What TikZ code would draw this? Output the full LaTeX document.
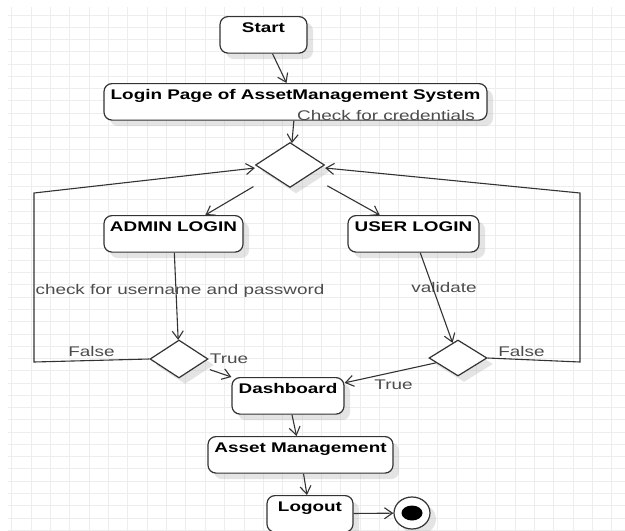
\documentclass[tikz,border=0pt]{standalone}
\usepackage{fontspec}
\newfontfamily\diagfont{Liberation Sans}[FakeStretch=1.35]
\usepackage{tikz}
\usetikzlibrary{arrows.meta, positioning, shapes.geometric, shadows, calc}

\begin{document}
\begin{tikzpicture}[x=1pt, y=-1pt,
  every node/.style={font=\diagfont\fontsize{14}{16}\selectfont},
  shd/.style={drop shadow={shadow xshift=6pt, shadow yshift=-6pt, fill=black!30, opacity=0.35}},
  box/.style={draw=black!80, line width=1.2pt, rounded corners=8pt, fill=white, shd,
    inner xsep=0pt, inner ysep=0.5pt, text height=15.5pt, text depth=20pt,
    font=\diagfont\bfseries\fontsize{14}{16}\selectfont},
  dec/.style={diamond, draw=black!80, line width=1.2pt, fill=white, inner sep=0pt, shd},
  lbl/.style={text=black!70, inner sep=0pt, anchor=base},
  arr/.style={draw=black!80, line width=1.1pt, -{Straight Barb[length=8pt,width=11pt]}},
  gridln/.style={draw=black!7, line width=1pt}]
\useasboundingbox[fill=white] (0,0) rectangle (625,531);
\begin{scope}
\clip (8,7) rectangle (625,531);
\foreach \i in {0,...,31} \draw[gridln] (11.7+19.36*\i,7) -- (11.7+19.36*\i,531);
\foreach \j in {0,...,42} \draw[gridln] (8,15+12.27*\j) -- (625,15+12.27*\j);
\end{scope}
\node[box, minimum width=87pt, anchor=north] (start) at (263.5,16) {Start};
\node[box, minimum width=383pt, anchor=north] (login) at (295.5,83) {Login Page of AssetManagement System};
\node[lbl] (cred) at (386,120) {Check for credentials};
\node[dec, minimum width=69pt, minimum height=45pt] (dtop) at (290,165) {};
\node[box, minimum width=139pt, anchor=north] (admin) at (173.5,215) {ADMIN LOGIN};
\node[box, minimum width=131pt, anchor=north] (user) at (413.5,215) {USER LOGIN};
\node[lbl] (chk) at (180,294) {check for username and password};
\node[lbl] (val) at (444,292) {validate};
\node[dec, minimum width=58pt, minimum height=38pt] (dadm) at (179,359) {};
\node[dec, minimum width=58pt, minimum height=36pt] (dusr) at (458,358) {};
\node[lbl] (f1) at (91.5,356) {False};
\node[lbl] (t1) at (229,363) {True};
\node[lbl] (f2) at (521.5,356) {False};
\node[lbl] (t2) at (393.5,389) {True};
\node[box, minimum width=112pt, anchor=north] (dash) at (288,377) {Dashboard};
\node[box, minimum width=185pt, anchor=north] (asset) at (300.5,436) {Asset Management};
\node[box, minimum width=86pt, anchor=north] (logout) at (310,495) {Logout};
\node[ellipse, draw=black!80, line width=1.2pt, fill=white, minimum width=36pt, minimum height=32pt, inner sep=0pt, shd] (fin) at (412,513) {};
\node[ellipse, fill=black, minimum width=21pt, minimum height=15pt, inner sep=0pt] (finin) at (fin) {};
\coordinate (lc1) at (34,362);
\coordinate (lc2) at (34,193);
\coordinate (rc1) at (580,362);
\coordinate (rc2) at (580,193);
\draw[arr] (start) -- (login);
\draw[arr] (login) -- (dtop);
\draw[arr, shorten <=21pt] (dtop) -- (admin);
\draw[arr, shorten <=21pt] (dtop) -- (user);
\draw[arr] (admin) -- (dadm);
\draw[arr] (user) -- (dusr);
\draw[arr, shorten <=12pt] (dadm) -- (dash.north west);
\draw[arr] (dusr) -- ($(dash.east)+(0,-13)$);
\draw[arr] (dash) -- (asset);
\draw[arr] (asset) -- (logout);
\draw[arr] (logout) -- (fin);
\draw[arr] (dadm.west) -- (lc1) -- (lc2) -- ($(dtop.west)+(0,3)$);
\draw[arr] (dusr.east) -- (rc1) -- (rc2) -- ($(dtop.east)+(0,3)$);
\end{tikzpicture}
\end{document}
